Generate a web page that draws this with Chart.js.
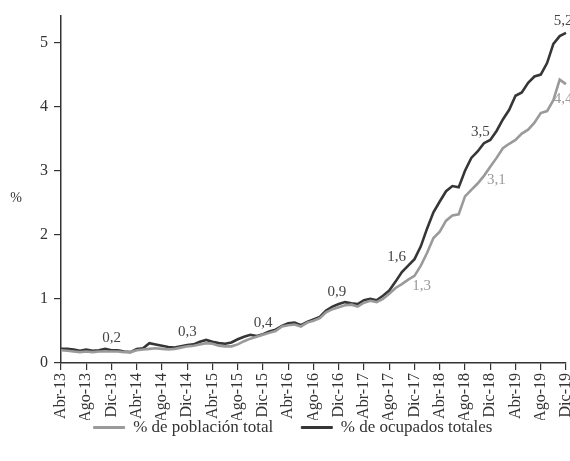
<!DOCTYPE html>
<html><head><meta charset="utf-8">
<script src="https://cdn.jsdelivr.net/npm/chart.js@4.4.0/dist/chart.umd.min.js"></script>
<style>html,body{margin:0;padding:0;background:#fff}</style>
</head><body>
<canvas id="c" width="570" height="461"></canvas>
<script>
// ---------- DATA ----------
const categories = [
 'Abr-13','May-13','Jun-13','Jul-13','Ago-13','Sep-13','Oct-13','Nov-13','Dic-13',
 'Ene-14','Feb-14','Mar-14','Abr-14','May-14','Jun-14','Jul-14','Ago-14','Sep-14','Oct-14','Nov-14','Dic-14',
 'Ene-15','Feb-15','Mar-15','Abr-15','May-15','Jun-15','Jul-15','Ago-15','Sep-15','Oct-15','Nov-15','Dic-15',
 'Ene-16','Feb-16','Mar-16','Abr-16','May-16','Jun-16','Jul-16','Ago-16','Sep-16','Oct-16','Nov-16','Dic-16',
 'Ene-17','Feb-17','Mar-17','Abr-17','May-17','Jun-17','Jul-17','Ago-17','Sep-17','Oct-17','Nov-17','Dic-17',
 'Ene-18','Feb-18','Mar-18','Abr-18','May-18','Jun-18','Jul-18','Ago-18','Sep-18','Oct-18','Nov-18','Dic-18',
 'Ene-19','Feb-19','Mar-19','Abr-19','May-19','Jun-19','Jul-19','Ago-19','Sep-19','Oct-19','Nov-19','Dic-19'
];
const xTickLabels = ['Abr-13','Ago-13','Dic-13','Abr-14','Ago-14','Dic-14','Abr-15','Ago-15','Dic-15',
 'Abr-16','Ago-16','Dic-16','Abr-17','Ago-17','Dic-17','Abr-18','Ago-18','Dic-18','Abr-19','Ago-19','Dic-19'];
const yTickValues = [0, 1, 2, 3, 4, 5];
const seriesNames = ['% de población total', '% de ocupados totales'];

const poblacionTotal = [
 0.20,0.19,0.18,0.17,0.18,0.17,0.18,0.18,0.18,
 0.18,0.17,0.17,0.20,0.21,0.22,0.23,0.22,0.21,0.22,0.24,0.26,
 0.27,0.29,0.31,0.30,0.27,0.26,0.26,0.29,0.34,0.38,0.41,0.44,
 0.47,0.50,0.57,0.59,0.60,0.57,0.63,0.66,0.70,0.79,0.84,0.87,
 0.90,0.91,0.88,0.94,0.97,0.95,1.00,1.08,1.17,1.23,1.30,1.36,
 1.52,1.72,1.95,2.05,2.22,2.30,2.32,2.60,2.70,2.80,2.92,3.06,
 3.20,3.35,3.42,3.48,3.58,3.64,3.75,3.90,3.93,4.10,4.42,4.35
];
const ocupadosTotales = [
 0.22,0.22,0.21,0.19,0.21,0.19,0.20,0.22,0.20,
 0.20,0.18,0.17,0.22,0.23,0.31,0.29,0.27,0.25,0.24,0.26,0.28,
 0.29,0.33,0.36,0.33,0.31,0.30,0.32,0.37,0.41,0.44,0.42,0.45,
 0.49,0.52,0.58,0.62,0.63,0.59,0.64,0.68,0.72,0.82,0.88,0.92,
 0.95,0.93,0.92,0.98,1.00,0.98,1.05,1.13,1.27,1.42,1.52,1.62,
 1.82,2.10,2.35,2.52,2.68,2.76,2.74,3.00,3.20,3.30,3.43,3.48,
 3.62,3.80,3.95,4.17,4.22,4.37,4.47,4.50,4.68,4.98,5.10,5.15
];
// value annotations: series (0 = población, 1 = ocupados), category, text
const annotSeries = [1, 1, 1, 1, 1, 0, 1, 0, 1, 0];
const annotCategory = ['Dic-13','Dic-14','Dic-15','Dic-16','Dic-17','Dic-17','Dic-18','Dic-18','Dic-19','Dic-19'];
const annotText = ['0,2','0,3','0,4','0,9','1,6','1,3','3,5','3,1','5,2','4,4'];

// ---------- STYLE ----------
const FONT = '"Liberation Serif", "DejaVu Serif", serif';
const DARK = '#363636';
const GREY = '#9a9a9a';
const AXIS = '#333333';
const annotOffsets = [[0,-12],[0,-13],[0,-11],[-2,-12],[-18,-2],[7,10],[-10,-8],[6,13],[-3,-12],[-3,15]];
const LEGEND_H = 41;
const LEGEND_TOP = 391;
const LEGEND_DRAW_H = 70;

const annotPlugin = {
  id: 'annot',
  afterDatasetsDraw(chart) {
    const ctx = chart.ctx;
    ctx.save();
    ctx.font = '15px ' + FONT;
    ctx.textAlign = 'center';
    ctx.textBaseline = 'middle';
    annotText.forEach((t, k) => {
      const s = annotSeries[k];
      const idx = categories.indexOf(annotCategory[k]);
      const pt = chart.getDatasetMeta(s).data[idx];
      ctx.fillStyle = s === 1 ? '#444444' : GREY;
      ctx.fillText(t, pt.x + annotOffsets[k][0], pt.y + annotOffsets[k][1]);
    });
    ctx.restore();
  },
  afterDraw(chart) {
    const ctx = chart.ctx;
    ctx.save();
    ctx.font = '14px ' + FONT;
    ctx.fillStyle = AXIS;
    ctx.textAlign = 'center';
    ctx.textBaseline = 'middle';
    ctx.fillText('%', 16, 198);
    ctx.restore();
  },
  beforeLayout(chart) {
    const lg = chart.legend;
    if (lg && !lg.__patched) {
      const orig = lg.fit;
      lg.fit = function () { orig.call(this); this.height = LEGEND_H; };
      lg.__patched = true;
    }
  },
  afterLayout(chart) {
    const lg = chart.legend;
    if (lg) { lg.top = LEGEND_TOP; lg.bottom = LEGEND_TOP + LEGEND_DRAW_H; lg.height = LEGEND_DRAW_H; }
  }
};

new Chart(document.getElementById('c'), {
  type: 'line',
  data: {
    labels: categories,
    datasets: [
      { label: seriesNames[0], data: poblacionTotal, borderColor: GREY, backgroundColor: GREY,
        borderWidth: 2.6, pointRadius: 0, tension: 0 },
      { label: seriesNames[1], data: ocupadosTotales, borderColor: DARK, backgroundColor: DARK,
        borderWidth: 2.6, pointRadius: 0, tension: 0 }
    ]
  },
  options: {
    responsive: false,
    animation: false,
    layout: { padding: { left: 20, right: 4, top: 13, bottom: 0 } },
    plugins: {
      legend: {
        position: 'bottom',
        labels: {
          font: { family: FONT, size: 17 },
          color: AXIS,
          boxWidth: 31,
          boxHeight: 2,
          padding: 28,
          generateLabels(chart) {
            return Chart.defaults.plugins.legend.labels.generateLabels(chart).map(l => Object.assign(l, { lineWidth: 1 }));
          }
        }
      },
      tooltip: { enabled: false }
    },
    scales: {
      x: {
        type: 'category',
        offset: false,
        afterBuildTicks(scale) {
          scale.ticks = scale.ticks.filter(t => xTickLabels.includes(categories[t.value]));
        },
        afterFit(scale) {
          scale.height = 461 - 363 - LEGEND_H;
          scale.paddingRight = 0;
          scale.paddingLeft = 0;
        },
        ticks: { autoSkip: false, maxRotation: 90, minRotation: 90, padding: 3,
                 font: { family: FONT, size: 16 }, color: AXIS },
        grid: { drawOnChartArea: false, drawTicks: true, tickLength: 7, color: AXIS, lineWidth: 1.2 },
        border: { display: true, color: AXIS, width: 1.5 }
      },
      y: {
        min: 0,
        max: 5.42,
        afterBuildTicks(scale) { scale.ticks = yTickValues.map(v => ({ value: v })); },
        afterFit(scale) { scale.width = 41; },
        ticks: { padding: 6, font: { family: FONT, size: 16 }, color: AXIS },
        grid: { drawOnChartArea: false, drawTicks: true, tickLength: 7, color: AXIS, lineWidth: 1.2 },
        border: { display: true, color: AXIS, width: 1.5 }
      }
    }
  },
  plugins: [annotPlugin]
});
</script>
</body></html>
